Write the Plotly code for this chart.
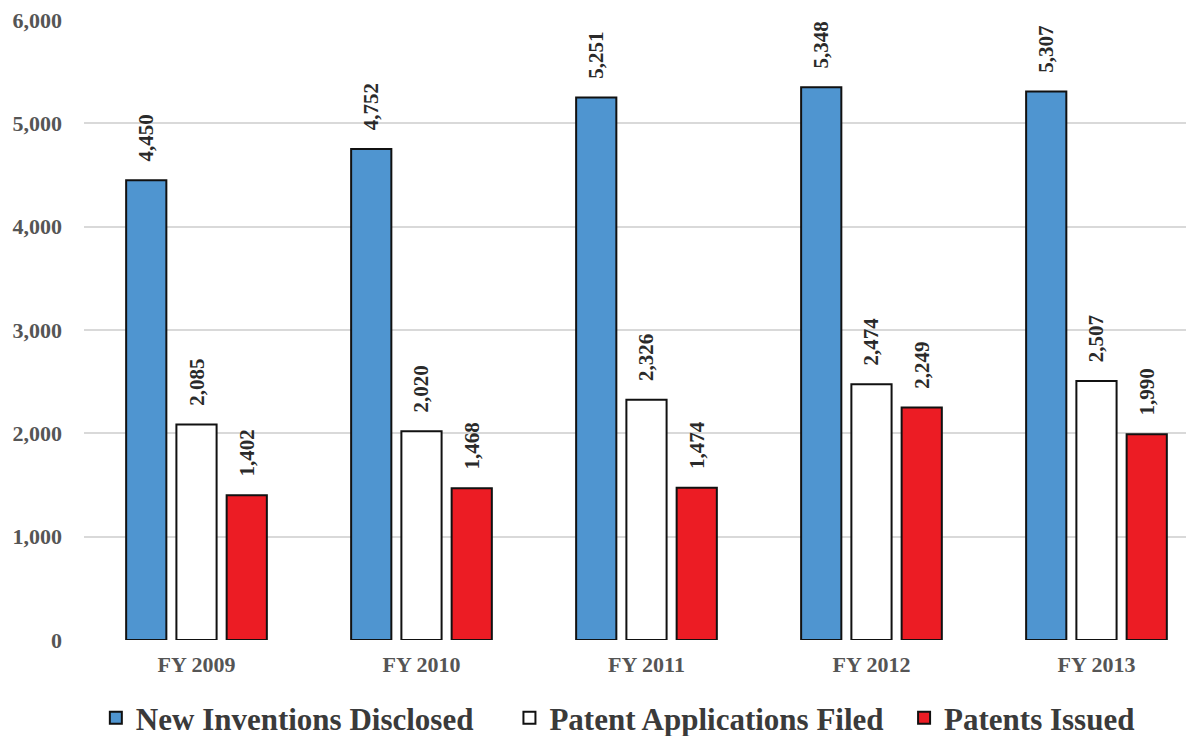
import plotly.graph_objects as go

categories = ["FY 2009", "FY 2010", "FY 2011", "FY 2012", "FY 2013"]
inventions = [4450, 4752, 5251, 5348, 5307]
applications = [2085, 2020, 2326, 2474, 2507]
issued = [1402, 1468, 1474, 2249, 1990]

series = [
    ("New Inventions Disclosed", inventions, "#4f95d0", "\u00a0\u00a0\u00a0\u00a0"),
    ("Patent Applications Filed", applications, "#ffffff", "\u00a0\u00a0"),
    ("Patents Issued", issued, "#ec1c24", ""),
]

SERIF = "Liberation Serif, Times New Roman, serif"

fig = go.Figure()
for name, vals, col, pad in series:
    fig.add_trace(go.Bar(
        x=categories, y=vals, name=name + pad,
        marker=dict(color=col, line=dict(color="#111111", width=2)),
        text=[f"\u00a0\u00a0\u00a0{v:,}" for v in vals],
        textposition="outside", textangle=-90, constraintext="none",
        textfont=dict(family=SERIF, size=21, color="#2a2a2a", weight="bold"),
        cliponaxis=False,
    ))

fig.update_layout(
    width=1194, height=736,
    margin=dict(l=76, r=0, t=12, b=104, autoexpand=False),
    paper_bgcolor="white", plot_bgcolor="white",
    barmode="group", bargap=0.33, bargroupgap=0.2,
    font=dict(family=SERIF, color="#444444"),
    showlegend=True,
    legend=dict(orientation="h", x=0.4775, xanchor="center", y=-0.126, yanchor="middle",
                font=dict(family=SERIF, size=31, color="#3a3a3a", weight="bold"),
                traceorder="normal", itemwidth=30),
)
fig.update_yaxes(range=[0, 6000], tickvals=[0, 1000, 2000, 3000, 4000, 5000, 6000],
                 tickformat=",", showgrid=True, gridcolor="#d9d9d9", gridwidth=2,
                 zeroline=False, showline=False, ticks="", ticklabelstandoff=21,
                 ticklabeloverflow="allow",
                 tickfont=dict(family=SERIF, size=22, color="#555555", weight="bold"))
fig.update_xaxes(range=[-0.5, 4.469], showline=False, ticks="", ticklabelstandoff=9,
                 ticklabeloverflow="allow",
                 tickfont=dict(family=SERIF, size=22, color="#555555", weight="bold"))

fig.write_html("out.html")
